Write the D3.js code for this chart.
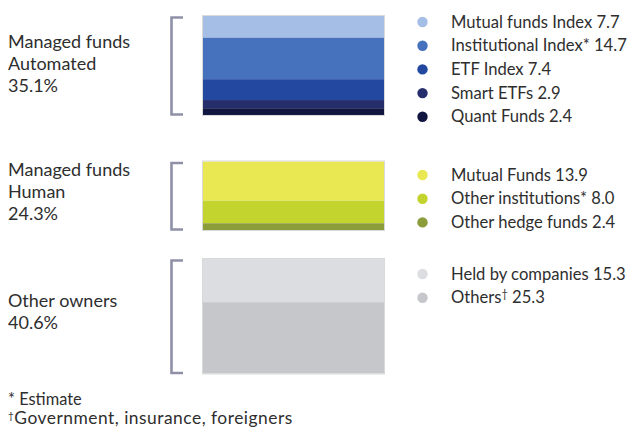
<!DOCTYPE html>
<html>
<head>
<meta charset="utf-8">
<script src="https://cdn.jsdelivr.net/npm/d3@7"></script>
<style>
html,body{margin:0;padding:0;background:#fff;}
svg{display:block;font-family:Lato,"Open Sans",sans-serif;}
</style>
</head>
<body>
<svg id="chart" width="639" height="431"></svg>
<script>
// ---- data ----
const groupLines = [
  ["Managed funds", "Automated", "35.1%"],
  ["Managed funds", "Human", "24.3%"],
  ["Other owners", "40.6%"]
];
const groupTotals = [35.1, 24.3, 40.6];
const seriesGroup = [0, 0, 0, 0, 0, 1, 1, 1, 2, 2];
const seriesNames = [
  "Mutual funds Index",
  "Institutional Index*",
  "ETF Index",
  "Smart ETFs",
  "Quant Funds",
  "Mutual Funds",
  "Other institutions*",
  "Other hedge funds",
  "Held by companies",
  "Others\u2020"
];
const seriesValues = [7.7, 14.7, 7.4, 2.9, 2.4, 13.9, 8.0, 2.4, 15.3, 25.3];
const seriesColors = ["#a4bee6", "#4671bc", "#2348a0", "#262d6b", "#111641",
                      "#e9e853", "#c3d42f", "#8b9c3b",
                      "#dcdde1", "#c6c7cb"];
const footnotes = ["* Estimate", "\u2020Government, insurance, foreigners"];

// ---- layout ----
const svg = d3.select("#chart");
const groupTop = [16, 161.5, 259];
const legendTop = [22, 175, 274];
const barX = 203, barW = 181;
const y = d3.scaleLinear().domain([0, 10]).range([0, 28.2]);
const textColor = "#2e2e2e";
const fmt = d3.format(".1f");

// stack within each group
const segs = [];
const cum = [0, 0, 0];
seriesValues.forEach((v, i) => {
  const g = seriesGroup[i];
  segs.push({g, start: cum[g], v, color: seriesColors[i], name: seriesNames[i], idx: i});
  cum[g] += v;
});

// bars
svg.append("g").selectAll("rect").data(segs).join("rect")
  .attr("x", barX)
  .attr("y", d => groupTop[d.g] + y(d.start))
  .attr("width", barW)
  .attr("height", d => y(d.v))
  .attr("fill", d => d.color);

// bar outline
svg.append("g").selectAll("rect").data(groupTotals).join("rect")
  .attr("x", barX - 0.5)
  .attr("y", (d, i) => groupTop[i] - 0.5)
  .attr("width", barW + 1)
  .attr("height", d => y(d) + 1)
  .attr("fill", "none")
  .attr("stroke", "#d9d9d9")
  .attr("stroke-width", 1);

// brackets
svg.append("g").selectAll("path").data(groupTotals).join("path")
  .attr("d", (d, i) => {
    const t = groupTop[i] + 1.5, b = groupTop[i] + y(d) - 0.5;
    return `M183,${t}H171.5V${b}H183`;
  })
  .attr("fill", "none")
  .attr("stroke", "#8e91a7")
  .attr("stroke-width", 2.6);

// group labels
const lineH = 22;
groupLines.forEach((lines, i) => {
  const cy = groupTop[i] + y(groupTotals[i]) / 2 - (i === 0 ? 1 : 4);
  const t = svg.append("text")
    .attr("x", 8)
    .attr("fill", textColor)
    .attr("font-size", 18);
  lines.forEach((ln, j) => {
    t.append("tspan")
      .attr("x", 8)
      .attr("y", cy + (j - (lines.length - 1) / 2) * lineH + 6)
      .text(ln);
  });
});

// legend
const rowH = 23.7;
const rowIndex = segs.map(d => segs.filter(e => e.g === d.g && e.idx < d.idx).length);
const leg = svg.append("g").selectAll("g").data(segs).join("g")
  .attr("transform", (d, i) => `translate(0,${legendTop[d.g] + rowIndex[i] * rowH})`);
leg.append("circle")
  .attr("cx", 422.5).attr("cy", 0).attr("r", 5.2)
  .attr("fill", d => d.color);
leg.append("text")
  .attr("x", 451).attr("y", 5.5)
  .attr("fill", textColor)
  .attr("font-size", 16.6)
  .each(function(d) {
    const t = d3.select(this);
    const m = d.name.match(/^(.*?)(\u2020?)$/);
    t.append("tspan").text(m[1]);
    if (m[2]) t.append("tspan").attr("font-size", 11).attr("dy", -5).text(m[2]);
    t.append("tspan").attr("dy", m[2] ? 5 : 0).text(" " + fmt(d.v));
  });

// footnotes
const fn = svg.append("g").selectAll("text").data(footnotes).join("text")
  .attr("x", 8)
  .attr("y", (d, i) => 405 + i * 19)
  .attr("fill", textColor)
  .attr("font-size", (d, i) => i === 1 ? 17.4 : 16.4)
  .attr("letter-spacing", (d, i) => i === 1 ? 0.5 : 0);
fn.each(function(d, i) {
  const t = d3.select(this);
  if (i === 1) {
    t.append("tspan").attr("font-size", 10).attr("dy", -5).text(d[0]);
    t.append("tspan").attr("dy", 5).text(d.slice(1));
  } else {
    t.text(d);
  }
});
</script>
</body>
</html>
